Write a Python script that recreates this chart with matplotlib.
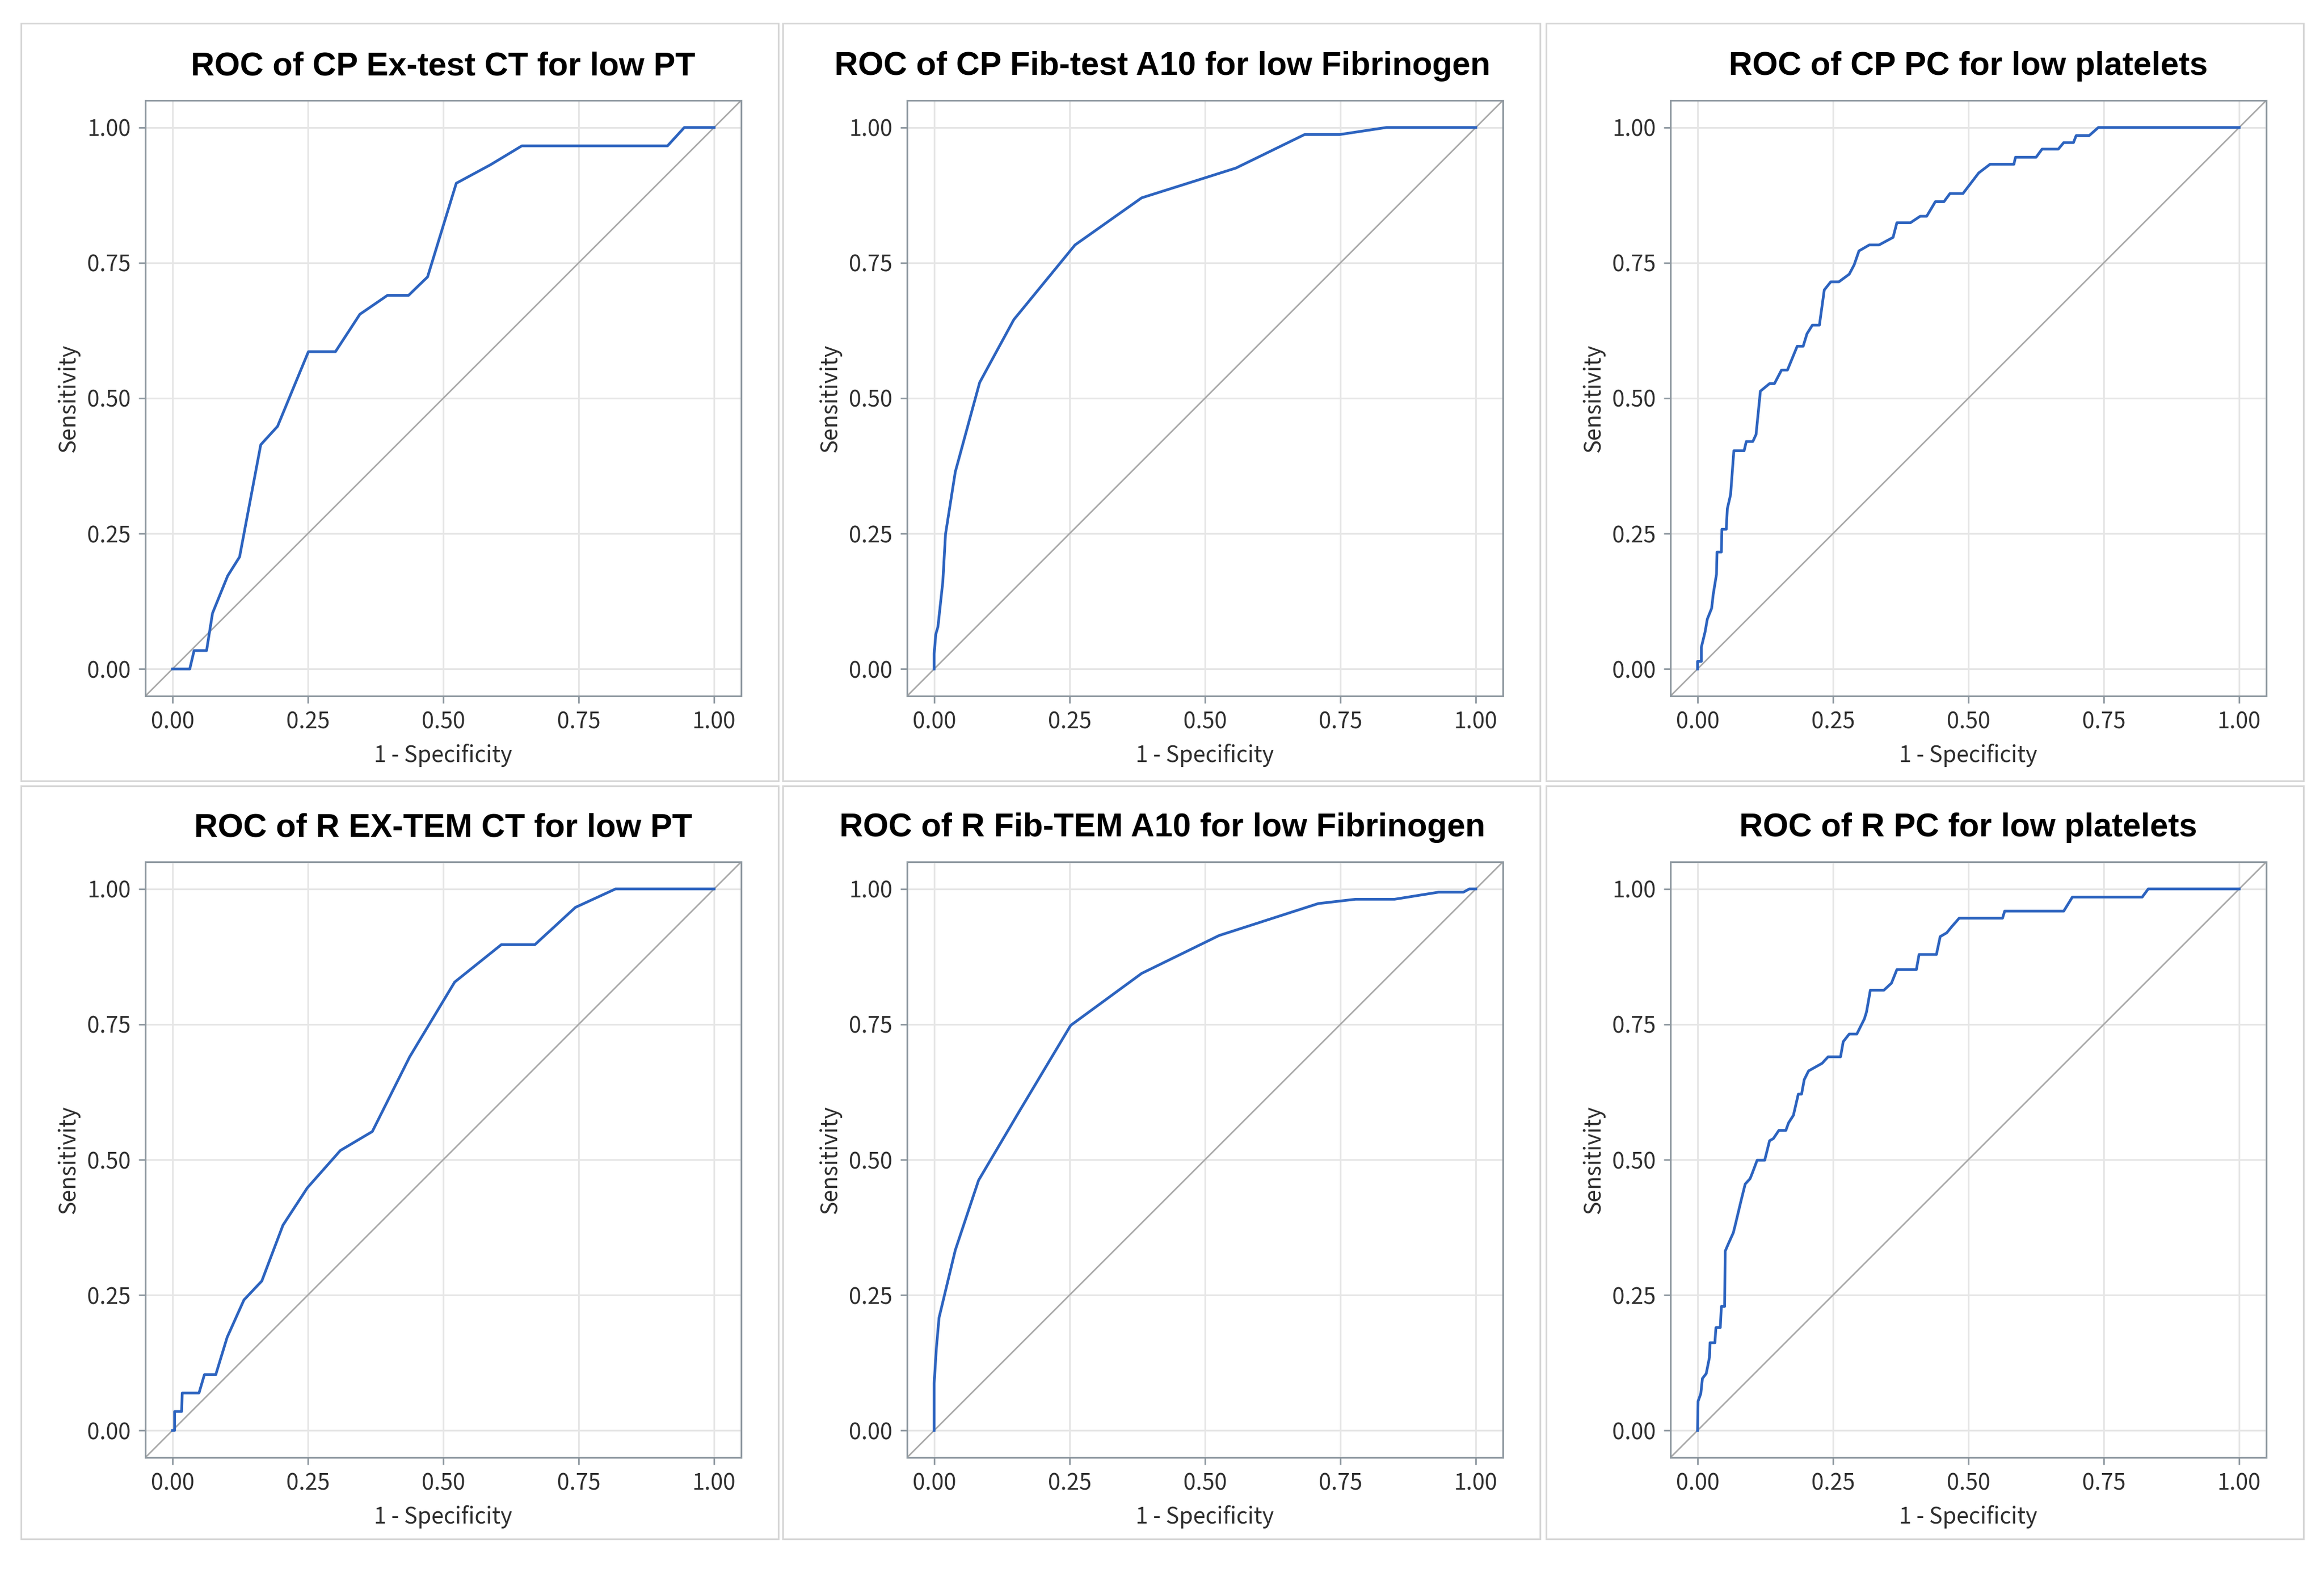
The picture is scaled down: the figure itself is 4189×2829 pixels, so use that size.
import matplotlib
matplotlib.use("Agg")
import matplotlib.pyplot as plt
from matplotlib.patches import Rectangle

# ROC curve points (1 - specificity, sensitivity)
cp_ex_fpr = [0.0, 0.032, 0.040, 0.063, 0.074, 0.102, 0.124, 0.163, 0.194, 0.251, 0.301,
             0.346, 0.397, 0.436, 0.471, 0.524, 0.587, 0.645, 0.914, 0.945, 1.0]
cp_ex_tpr = [0.0, 0.0, 0.034, 0.034, 0.103, 0.172, 0.207, 0.414, 0.448, 0.586, 0.586,
             0.655, 0.690, 0.690, 0.724, 0.897, 0.931, 0.966, 0.966, 1.0, 1.0]

cp_fib_fpr = [0.0, 0.0, 0.003, 0.007, 0.016, 0.021, 0.039, 0.084, 0.147, 0.260, 0.383,
              0.557, 0.684, 0.749, 0.835, 1.0]
cp_fib_tpr = [0.0, 0.028, 0.064, 0.078, 0.161, 0.249, 0.364, 0.529, 0.645, 0.783, 0.870,
              0.925, 0.987, 0.987, 1.0, 1.0]

cp_pc_fpr = [0.0, 0.0, 0.007, 0.007, 0.014, 0.018, 0.026, 0.029, 0.035, 0.036, 0.044, 0.045,
             0.053, 0.055, 0.061, 0.067, 0.086, 0.090, 0.102, 0.108, 0.116, 0.133, 0.142,
             0.155, 0.166, 0.184, 0.195, 0.202, 0.212, 0.225, 0.234, 0.246, 0.261, 0.280,
             0.289, 0.298, 0.317, 0.335, 0.361, 0.368, 0.393, 0.411, 0.423, 0.439, 0.455,
             0.466, 0.490, 0.519, 0.540, 0.584, 0.587, 0.625, 0.636, 0.666, 0.676, 0.694,
             0.699, 0.723, 0.740, 1.0]
cp_pc_tpr = [0.0, 0.014, 0.014, 0.040, 0.069, 0.092, 0.112, 0.138, 0.175, 0.216, 0.216, 0.258,
             0.258, 0.296, 0.322, 0.403, 0.403, 0.420, 0.420, 0.433, 0.513, 0.527, 0.527,
             0.552, 0.552, 0.596, 0.596, 0.619, 0.635, 0.635, 0.700, 0.715, 0.715, 0.729,
             0.746, 0.772, 0.783, 0.783, 0.797, 0.824, 0.824, 0.836, 0.836, 0.863, 0.863,
             0.878, 0.878, 0.916, 0.932, 0.932, 0.945, 0.945, 0.960, 0.960, 0.972, 0.972,
             0.985, 0.985, 1.0, 1.0]

r_ex_fpr = [0.0, 0.004, 0.004, 0.017, 0.018, 0.049, 0.059, 0.080, 0.101, 0.132, 0.165,
            0.204, 0.249, 0.310, 0.369, 0.438, 0.521, 0.607, 0.669, 0.744, 0.818, 1.0]
r_ex_tpr = [0.0, 0.0, 0.035, 0.035, 0.069, 0.069, 0.103, 0.103, 0.172, 0.241, 0.276,
            0.379, 0.448, 0.517, 0.552, 0.690, 0.828, 0.897, 0.897, 0.966, 1.0, 1.0]

r_fib_fpr = [0.0, 0.0, 0.004, 0.009, 0.039, 0.082, 0.160, 0.252, 0.383, 0.526, 0.647,
             0.709, 0.778, 0.850, 0.931, 0.977, 0.988, 1.0]
r_fib_tpr = [0.0, 0.087, 0.151, 0.208, 0.333, 0.462, 0.594, 0.748, 0.844, 0.914, 0.953,
             0.973, 0.981, 0.981, 0.994, 0.994, 1.0, 1.0]

r_pc_fpr = [0.0, 0.001, 0.006, 0.009, 0.016, 0.022, 0.023, 0.032, 0.034, 0.042, 0.044, 0.050,
            0.051, 0.057, 0.066, 0.070, 0.081, 0.088, 0.097, 0.101, 0.110, 0.124, 0.133,
            0.140, 0.150, 0.163, 0.168, 0.177, 0.186, 0.192, 0.197, 0.205, 0.230, 0.241,
            0.264, 0.269, 0.280, 0.294, 0.308, 0.312, 0.319, 0.344, 0.358, 0.368, 0.404,
            0.409, 0.441, 0.448, 0.460, 0.469, 0.483, 0.563, 0.567, 0.676, 0.692, 0.821,
            0.832, 1.0]
r_pc_tpr = [0.0, 0.054, 0.068, 0.096, 0.105, 0.135, 0.162, 0.162, 0.190, 0.190, 0.229, 0.229,
            0.331, 0.345, 0.365, 0.381, 0.427, 0.455, 0.465, 0.475, 0.499, 0.499, 0.535,
            0.539, 0.554, 0.554, 0.568, 0.582, 0.621, 0.621, 0.648, 0.664, 0.678, 0.690,
            0.690, 0.718, 0.732, 0.732, 0.760, 0.773, 0.813, 0.813, 0.826, 0.851, 0.851,
            0.879, 0.879, 0.912, 0.919, 0.930, 0.946, 0.946, 0.959, 0.959, 0.985, 0.985,
            1.0, 1.0]

titles = [
    "ROC of CP Ex-test CT for low PT",
    "ROC of CP Fib-test A10 for low Fibrinogen",
    "ROC of CP PC for low platelets",
    "ROC of R EX-TEM CT for low PT",
    "ROC of R Fib-TEM A10 for low Fibrinogen",
    "ROC of R PC for low platelets",
]
curves = [
    (cp_ex_fpr, cp_ex_tpr), (cp_fib_fpr, cp_fib_tpr), (cp_pc_fpr, cp_pc_tpr),
    (r_ex_fpr, r_ex_tpr), (r_fib_fpr, r_fib_tpr), (r_pc_fpr, r_pc_tpr),
]
ticks = [0.0, 0.25, 0.5, 0.75, 1.0]
tick_labels = ["0.00", "0.25", "0.50", "0.75", "1.00"]

W, H = 4189, 2829
fig = plt.figure(figsize=(W / 100, H / 100), dpi=100)
fig.patch.set_facecolor("white")

small_font = ["Noto Sans CJK JP", "DejaVu Sans"]
spine_col = "#8d979f"
text_col = "#2e2e2e"

# pixel layout of the panels
col_left = [262, 1635, 3011]
row_top = [181, 1554]
side = 1074
frame_x = [(38, 1403), (1411, 2776), (2787, 4152)]
frame_y = [(42, 1408), (1417, 2775)]
# long titles sit centred on the panel instead of the axes
title_x = [0.5, 0.428, 0.5, 0.5, 0.428, 0.5]

for r in range(2):
    for c in range(3):
        x0, x1 = frame_x[c]
        y0, y1 = frame_y[r]
        fig.patches.append(Rectangle((x0 / W, 1 - y1 / H), (x1 - x0) / W, (y1 - y0) / H,
                                     transform=fig.transFigure, fill=False,
                                     edgecolor="#d6d6d6", linewidth=2.2))

for i, (title, (fpr, tpr)) in enumerate(zip(titles, curves)):
    r, c = divmod(i, 3)
    ax = fig.add_axes([col_left[c] / W, 1 - (row_top[r] + side) / H, side / W, side / H])
    ax.plot([-0.05, 1.05], [-0.05, 1.05], color="#a9a9a9", linewidth=2.0, zorder=2)
    ax.plot(fpr, tpr, color="#2c63bf", linewidth=3.5, zorder=3)
    ax.set_xlim(-0.05, 1.05)
    ax.set_ylim(-0.05, 1.05)
    ax.set_xticks(ticks)
    ax.set_yticks(ticks)
    ax.set_xticklabels(tick_labels, family=small_font, fontsize=29, color=text_col)
    ax.set_yticklabels(tick_labels, family=small_font, fontsize=29, color=text_col)
    ax.tick_params(length=9, width=2, color=spine_col, pad=10)
    ax.grid(True, color="#e6e6e6", linewidth=2.2, zorder=0)
    ax.set_axisbelow(True)
    for s in ax.spines.values():
        s.set_color(spine_col)
        s.set_linewidth(2.2)
    ax.set_xlabel("1 - Specificity", family=small_font, fontsize=29, color=text_col)
    ax.set_ylabel("Sensitivity", family=small_font, fontsize=29, color=text_col)
    ax.xaxis.set_label_coords(0.5, -0.080)
    ax.yaxis.set_label_coords(-0.110, 0.5)
    ax.text(title_x[i], 1.057, title, transform=ax.transAxes, ha="center", va="center",
            fontsize=42.5, fontweight="bold", family=["Liberation Sans", "DejaVu Sans"])

fig.savefig("out.png", dpi=100)
